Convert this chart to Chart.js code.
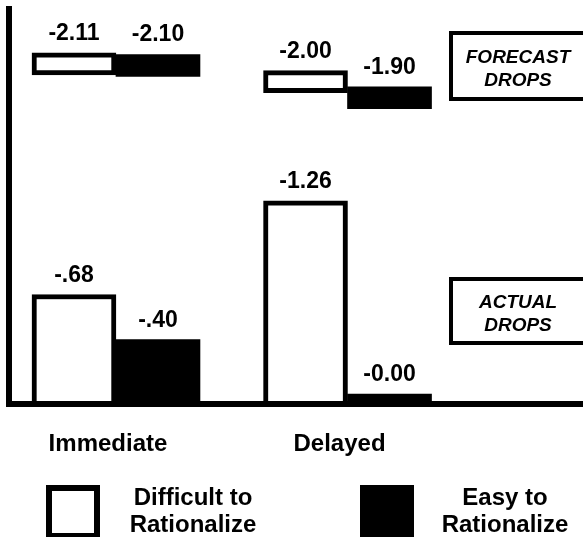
<!DOCTYPE html>
<html><head><meta charset="utf-8">
<script src="https://cdn.jsdelivr.net/npm/chart.js@4/dist/chart.umd.min.js"></script>
<style>html,body{margin:0;padding:0;background:#fff;} canvas{display:block;}</style>
</head><body>
<canvas id="c" width="583" height="537"></canvas>
<script>
// ---- data ----
const categories = ['Immediate', 'Delayed'];
const seriesNames = [['Difficult to', 'Rationalize'], ['Easy to', 'Rationalize']];
const forecastDifficult = [-2.11, -2.00];
const forecastEasy = [-2.10, -1.90];
const actualDifficult = [-0.68, -1.26];
const actualEasy = [-0.40, -0.00];
const panelLabels = [['FORECAST', 'DROPS'], ['ACTUAL', 'DROPS']];

// ---- style constants ----
const FH = 0.068;            // half-thickness of forecast marker (data units)
const BLACK = '#000', WHITE = '#fff';
const FONT = '"Liberation Sans", Arial, sans-serif';

function fmt(v) {
  let a = Math.abs(v).toFixed(2);
  if (Math.abs(v) > 0 && a.startsWith('0.')) a = a.slice(1);
  return '-' + a;
}
const floatPts = arr => categories.map((c, i) => ({x: i, y: [arr[i] - FH, arr[i] + FH]}));
const pts = arr => categories.map((c, i) => ({x: i, y: arr[i]}));

const valueLabels = {
  id: 'valueLabels',
  afterDatasetsDraw(chart) {
    const ctx = chart.ctx;
    ctx.save();
    ctx.font = 'bold 23px ' + FONT;
    ctx.fillStyle = BLACK;
    ctx.textAlign = 'center';
    ctx.textBaseline = 'alphabetic';
    chart.data.datasets.forEach((ds, d) => {
      const meta = chart.getDatasetMeta(d);
      meta.data.forEach((el, i) => {
        const top = Math.min(el.y, el.base);
        ctx.fillText(fmt(ds.values[i]), el.x, top - 13);
      });
    });
    ctx.restore();
  }
};

const panels = {
  id: 'panels',
  afterDraw(chart) {
    const ctx = chart.ctx, a = chart.chartArea;
    const boxes = [{y0: a.top + 24, y1: a.top + 90}, {y0: a.top + 270, y1: a.top + 334}];
    ctx.save();
    ctx.strokeStyle = BLACK; ctx.lineWidth = 4; ctx.fillStyle = BLACK;
    ctx.font = 'italic bold 19px ' + FONT;
    ctx.textAlign = 'center'; ctx.textBaseline = 'alphabetic';
    boxes.forEach((b, k) => {
      const x0 = a.right - 132;
      ctx.fillStyle = WHITE;
      ctx.fillRect(x0, b.y0, 140, b.y1 - b.y0);
      ctx.strokeRect(x0, b.y0, 140, b.y1 - b.y0);
      ctx.fillStyle = BLACK;
      const cx = x0 + 67, mid = (b.y0 + b.y1) / 2;
      ctx.fillText(panelLabels[k][0], cx, mid - 3);
      ctx.fillText(panelLabels[k][1], cx, mid + 20);
    });
    ctx.restore();
  }
};

const legendPlugin = {
  id: 'customLegend',
  afterDraw(chart) {
    const ctx = chart.ctx;
    const items = [
      {ds: chart.data.datasets[2], bx: 46, tx: 193},
      {ds: chart.data.datasets[3], bx: 360, tx: 505}
    ];
    ctx.save();
    items.forEach((it, k) => {
      const s = 54, by = 485;
      ctx.fillStyle = it.ds.backgroundColor;
      ctx.fillRect(it.bx, by, s, s);
      ctx.strokeStyle = it.ds.borderColor;
      ctx.lineWidth = 6;
      ctx.strokeRect(it.bx + 3, by + 3, s - 6, s - 6);
      ctx.fillStyle = BLACK;
      ctx.font = 'bold 24px ' + FONT;
      ctx.textAlign = 'center'; ctx.textBaseline = 'alphabetic';
      ctx.fillText(seriesNames[k][0], it.tx, 505);
      ctx.fillText(seriesNames[k][1], it.tx, 532);
    });
    ctx.restore();
  }
};

new Chart(document.getElementById('c'), {
  type: 'bar',
  data: {
    datasets: [
      {label: seriesNames[0].join(' '), stack: 'difficult', values: forecastDifficult, data: floatPts(forecastDifficult),
       backgroundColor: WHITE, borderColor: BLACK, borderWidth: 5, borderSkipped: false},
      {label: seriesNames[1].join(' '), stack: 'easy', values: forecastEasy, data: floatPts(forecastEasy),
       backgroundColor: BLACK, borderColor: BLACK, borderWidth: 0, borderSkipped: false},
      {label: seriesNames[0].join(' '), stack: 'difficult', values: actualDifficult, data: pts(actualDifficult),
       backgroundColor: WHITE, borderColor: BLACK, borderWidth: 5},
      {label: seriesNames[1].join(' '), stack: 'easy', values: actualEasy, data: pts(actualEasy),
       backgroundColor: BLACK, borderColor: BLACK, borderWidth: 0, minBarLength: 20,
       clip: {left: false, right: false, top: false, bottom: 0}}
    ]
  },
  options: {
    responsive: false,
    animation: false,
    events: [],
    layout: {padding: {left: 9, top: 9, right: 0, bottom: 52}},
    datasets: {bar: {barThickness: 84}},
    plugins: {legend: {display: false}, tooltip: {enabled: false}},
    scales: {
      x: {
        type: 'linear', min: -0.462, max: 2.017, offset: false,
        grid: {display: false, drawTicks: false},
        border: {display: true, width: 6, color: BLACK, z: 1},
        afterBuildTicks: scale => { scale.ticks = categories.map((c, i) => ({value: i})); },
        ticks: {
          callback: v => categories[v],
          font: {family: FONT, weight: 'bold', size: 24},
          color: BLACK, padding: 26, labelOffset: -8, maxRotation: 0, autoSkip: false
        }
      },
      y: {
        type: 'linear', min: -2.45, max: 0, reverse: true, stacked: false,
        grid: {display: false, drawTicks: false},
        border: {display: true, width: 6, color: BLACK, z: 1},
        ticks: {display: false}
      }
    }
  },
  plugins: [valueLabels, panels, legendPlugin]
});
</script>
</body></html>
